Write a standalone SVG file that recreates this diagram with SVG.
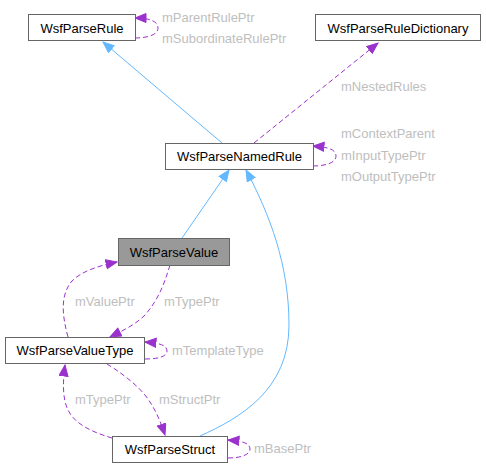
<svg xmlns="http://www.w3.org/2000/svg" width="486" height="468" viewBox="0 0 486 468">
<defs>
<style>
.node rect{fill:#ffffff;stroke:#666666;stroke-width:1}
.node.cur rect{fill:#999999}
.node text{font-family:"Liberation Sans",Arial,sans-serif;font-size:13px;fill:#000000;text-anchor:middle}
.lbl{font-family:"Liberation Sans",Arial,sans-serif;font-size:13px;fill:#bebebe}
.inh{fill:none;stroke:#63b8ff;stroke-width:1}
.use{fill:none;stroke:#9a32cd;stroke-width:1;stroke-dasharray:5,3}
</style>
<marker id="ab" markerUnits="userSpaceOnUse" markerWidth="13" markerHeight="11" refX="11.5" refY="5" orient="auto"><path d="M0.5,0.5 L11.5,5 L0.5,9.5 z" fill="#63b8ff" stroke="#63b8ff" stroke-width="1"/></marker>
<marker id="ap" markerUnits="userSpaceOnUse" markerWidth="13" markerHeight="11" refX="11.5" refY="5" orient="auto"><path d="M0.5,0.5 L11.5,5 L0.5,9.5 z" fill="#9a32cd" stroke="#9a32cd" stroke-width="1"/></marker>
</defs>
<rect width="486" height="468" fill="#ffffff"/>
<g id="connectors">
<path class="inh" d="M222,143 L103,42" marker-end="url(#ab)"/>
<path class="use" d="M254,143 L378,43" marker-end="url(#ap)"/>
<path class="use" d="M135,38 C147,38 158,35 158,28 C158,21 149,18 135,18" marker-end="url(#ap)"/>
<path class="use" d="M313,166 C325,166 336,163 336,156 C336,149 327,147 313,146" marker-end="url(#ap)"/>
<path class="inh" d="M182,238 L229,170" marker-end="url(#ab)"/>
<path class="inh" d="M200,436 C240,418 289,390 289,325 C289,265 270,215 246,170" marker-end="url(#ab)"/>
<path class="use" d="M68,337 C62,315 60,295 72,281 C82,271 98,266 117,262" marker-end="url(#ap)"/>
<path class="use" d="M170,265 C164,285 158,300 145,315 C135,325 122,331 110,337" marker-end="url(#ap)"/>
<path class="use" d="M145,359 C157,359 167,357 167,351 C167,345 159,343 145,342" marker-end="url(#ap)"/>
<path class="use" d="M107,364 C120,372 135,383 145,395 C155,408 160,420 165,435" marker-end="url(#ap)"/>
<path class="use" d="M112,438 C95,433 75,425 68,410 C62,398 63,380 65,365" marker-end="url(#ap)"/>
<path class="use" d="M228,458 C240,458 250,455 250,449 C250,443 242,441 228,440" marker-end="url(#ap)"/>
<text class="lbl" x="162" y="22">mParentRulePtr</text>
<text class="lbl" x="162" y="43">mSubordinateRulePtr</text>
<text class="lbl" x="341" y="91">mNestedRules</text>
<text class="lbl" x="341" y="138">mContextParent</text>
<text class="lbl" x="341" y="160">mInputTypePtr</text>
<text class="lbl" x="341" y="181">mOutputTypePtr</text>
<text class="lbl" x="75" y="306">mValuePtr</text>
<text class="lbl" x="164" y="306">mTypePtr</text>
<text class="lbl" x="172" y="355">mTemplateType</text>
<text class="lbl" x="75" y="404">mTypePtr</text>
<text class="lbl" x="159" y="404">mStructPtr</text>
<text class="lbl" x="254" y="453">mBasePtr</text>
</g>
<g id="WsfParseRule" class="node"><rect x="28.5" y="14.5" width="107" height="26"/><text x="82" y="32.5">WsfParseRule</text></g>
<g id="WsfParseRuleDictionary" class="node"><rect x="315.5" y="14.5" width="165" height="26"/><text x="398" y="32.5">WsfParseRuleDictionary</text></g>
<g id="WsfParseNamedRule" class="node"><rect x="165.5" y="143.5" width="148" height="26"/><text x="239.5" y="161">WsfParseNamedRule</text></g>
<g id="WsfParseValue" class="node cur"><rect x="118.5" y="238.5" width="111" height="27"/><text x="174" y="256.5">WsfParseValue</text></g>
<g id="WsfParseValueType" class="node"><rect x="5.5" y="337.5" width="139" height="26"/><text x="75" y="355">WsfParseValueType</text></g>
<g id="WsfParseStruct" class="node"><rect x="112.5" y="436.5" width="115" height="26"/><text x="170" y="454">WsfParseStruct</text></g>
</svg>
